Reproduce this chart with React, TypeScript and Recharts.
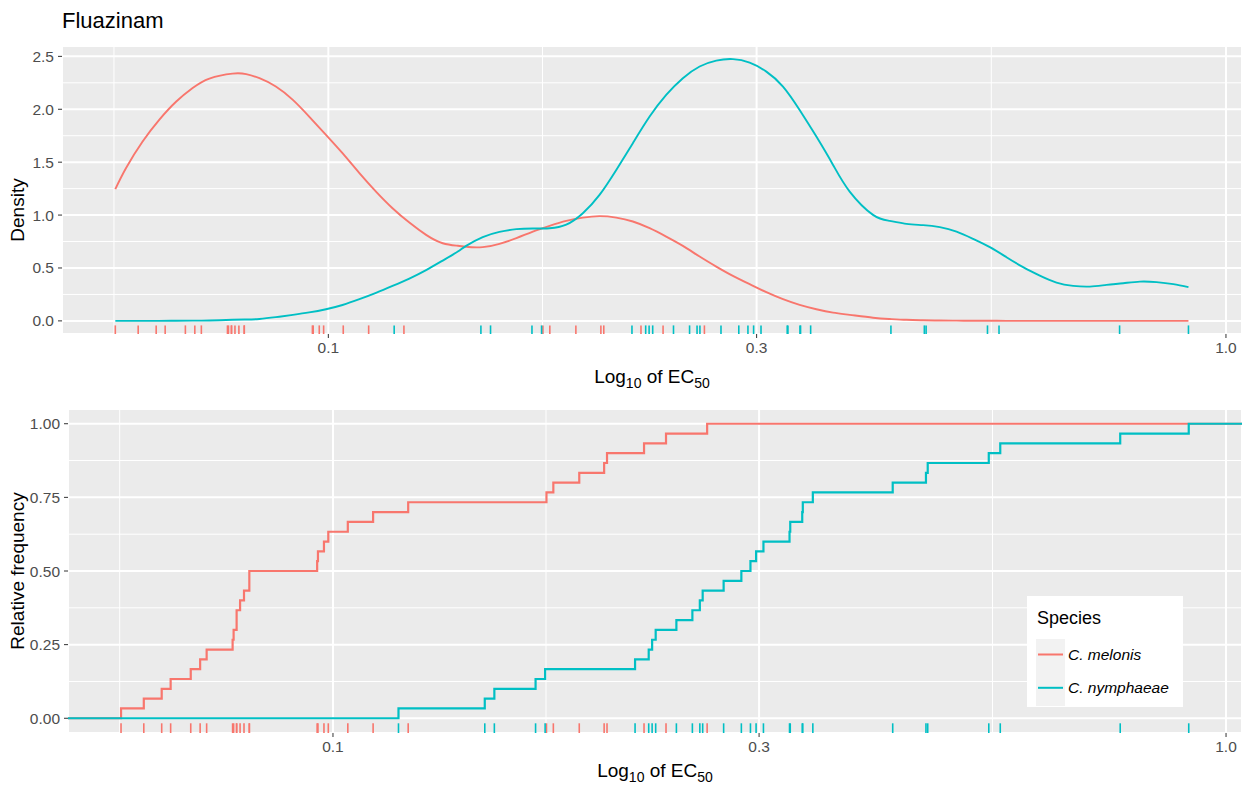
import React from 'react';
import { ComposedChart, Line, Scatter, XAxis, YAxis, CartesianGrid, Legend } from 'recharts';

// ---------- data ----------
const SPECIES = ['C. melonis', 'C. nymphaeae'];
const SPECIES_COLORS = ['#F8766D', '#00BFC4'];

const melonisEC50 = [0.0579, 0.0614, 0.0643, 0.0658, 0.0693, 0.071, 0.0722, 0.0772, 0.0774, 0.078, 0.078, 0.0787, 0.0795, 0.0806, 0.0806, 0.096, 0.0962, 0.0977, 0.0988, 0.1039, 0.1109, 0.1214, 0.1734, 0.1765, 0.1887, 0.2012, 0.2027, 0.223, 0.236, 0.2624];
const nymphaeaeEC50 = [0.1184, 0.1479, 0.1516, 0.1686, 0.1728, 0.2179, 0.2257, 0.2277, 0.2298, 0.2424, 0.2526, 0.2575, 0.2594, 0.2738, 0.2866, 0.2934, 0.2977, 0.3034, 0.3245, 0.3251, 0.3353, 0.3358, 0.3446, 0.4234, 0.4613, 0.4634, 0.5424, 0.5587, 0.7612, 0.9083];

const densityGrid = [0.0579, 0.0595, 0.0621, 0.0648, 0.0677, 0.0706, 0.0737, 0.0782, 0.081, 0.0838, 0.0874, 0.0913, 0.0952, 0.0994, 0.1037, 0.1083, 0.113, 0.1179, 0.1231, 0.1285, 0.1341, 0.1394, 0.1424, 0.1486, 0.1551, 0.162, 0.169, 0.1764, 0.1841, 0.1921, 0.2005, 0.2093, 0.2184, 0.228, 0.2379, 0.2483, 0.2592, 0.2705, 0.2823, 0.2947, 0.3076, 0.321, 0.335, 0.3497, 0.365, 0.3809, 0.4044, 0.4221, 0.4406, 0.4598, 0.48, 0.501, 0.5229, 0.5457, 0.5695, 0.5943, 0.6203, 0.6475, 0.6757, 0.7053, 0.7362, 0.7685, 0.802, 0.837, 0.8737, 0.9083];
const melonisDensity = [1.245, 1.443, 1.695, 1.9, 2.073, 2.2, 2.29, 2.337, 2.332, 2.294, 2.215, 2.089, 1.931, 1.758, 1.585, 1.396, 1.222, 1.065, 0.929, 0.813, 0.734, 0.71, 0.7, 0.697, 0.728, 0.782, 0.844, 0.898, 0.945, 0.976, 0.99, 0.976, 0.939, 0.876, 0.797, 0.709, 0.608, 0.513, 0.425, 0.347, 0.271, 0.205, 0.151, 0.11, 0.078, 0.057, 0.03, 0.018, 0.01, 0.006, 0.003, 0.002, 0.001, 0.001, 0, 0, 0, 0, 0, 0, 0, 0, 0, 0, 0, 0];
const nymphaeaeDensity = [0, 0, 0, 0, 0.001, 0.002, 0.004, 0.01, 0.013, 0.018, 0.035, 0.057, 0.08, 0.11, 0.15, 0.205, 0.265, 0.33, 0.4, 0.48, 0.57, 0.655, 0.709, 0.791, 0.841, 0.867, 0.873, 0.876, 0.91, 1.018, 1.191, 1.427, 1.68, 1.931, 2.136, 2.294, 2.404, 2.46, 2.474, 2.441, 2.356, 2.215, 1.994, 1.742, 1.474, 1.222, 1.002, 0.945, 0.917, 0.905, 0.886, 0.844, 0.775, 0.697, 0.602, 0.508, 0.428, 0.362, 0.331, 0.324, 0.34, 0.356, 0.371, 0.366, 0.347, 0.319];

const X_TICKS = [0.1, 0.3, 1.0];
const X_MINOR = [0.0577, 0.1732, 0.5477];
const X_DOMAIN = [0.0505, 1.042];
const DENSITY_TICKS = [0, 0.5, 1, 1.5, 2, 2.5];
const DENSITY_MINOR = [0.25, 0.75, 1.25, 1.75, 2.25];
const DENSITY_DOMAIN = [-0.124, 2.598];
const FREQ_TICKS = [0, 0.25, 0.5, 0.75, 1];
const FREQ_MINOR = [0.125, 0.375, 0.625, 0.875];
const FREQ_DOMAIN = [-0.05, 1.05];

// ---------- derived tables ----------
const densityRows = (vals: number[]) => densityGrid.map((x, i) => ({ x, y: vals[i] }));
const ecdfRows = (obs: number[]) => {
  const s = [...obs].sort((a, b) => a - b);
  return [{ x: X_DOMAIN[0], y: 0 }, ...s.map((v, i) => ({ x: v, y: (i + 1) / s.length })), { x: X_DOMAIN[1], y: 1 }];
};
const rugRows = (obs: number[], yBase: number) => obs.map((x) => ({ x, y: yBase }));

const OBS = [melonisEC50, nymphaeaeEC50];
const DENS = [melonisDensity, nymphaeaeDensity];

const FONT = "'Liberation Sans', Arial, sans-serif";
const TICK_STYLE = { fill: '#4D4D4D', fontSize: 15.5, fontFamily: FONT };

const makeRug = (color: string, len: number) => (props: any) => {
  const { cx, cy } = props;
  if (cx == null || cy == null) return <g />;
  return <line x1={cx} x2={cx} y1={cy} y2={cy - len} stroke={color} strokeWidth={1.6} />;
};

const XTitle = (cx: number, baseline: number) => () => (
  <text x={cx} y={baseline} textAnchor="middle" fontSize={19} fill="#000" fontFamily={FONT}>
    <tspan>Log</tspan>
    <tspan fontSize={14} dy={5}>10</tspan>
    <tspan dy={-5}> of EC</tspan>
    <tspan fontSize={14} dy={5}>50</tspan>
  </text>
);

const YTitle = (text: string, bx: number, cy: number) => () => (
  <text x={bx} y={cy} transform={`rotate(-90, ${bx}, ${cy})`} textAnchor="middle" fontSize={19} fill="#000" fontFamily={FONT}>
    {text}
  </text>
);

const LegendBox = () => (
  <svg width={156} height={111} style={{ display: 'block' }}>
    <rect x={0} y={0} width={156} height={111} fill="#fff" />
    <text x={10} y={28} fontSize={18} fill="#000" fontFamily={FONT}>Species</text>
    <rect x={9} y={43} width={29} height={67} fill="#F2F2F2" />
    {SPECIES.map((name, i) => (
      <g key={name}>
        <line x1={11} x2={36} y1={58.5 + i * 33.3} y2={58.5 + i * 33.3} stroke={SPECIES_COLORS[i]} strokeWidth={2} />
        <text x={41} y={58.5 + i * 33.3 + 5.5} fontSize={15.5} fontStyle="italic" fill="#000" fontFamily={FONT}>{name}</text>
      </g>
    ))}
  </svg>
);

function DensityChart() {
  return (
    <ComposedChart width={1254} height={395} margin={{ top: 46, right: 12, bottom: 0, left: 0 }}>
      <CartesianGrid fill="#EBEBEB" stroke="#FFFFFF" strokeWidth={1} horizontalValues={DENSITY_MINOR} verticalValues={X_MINOR} />
      <CartesianGrid stroke="#FFFFFF" strokeWidth={2} />
      <XAxis dataKey="x" type="number" scale="log" domain={X_DOMAIN} allowDataOverflow ticks={X_TICKS}
        tickFormatter={(v: number) => v.toFixed(1)} axisLine={false} tickLine={{ stroke: '#333333' }}
        tickSize={4} tickMargin={4} tick={TICK_STYLE} height={61} label={XTitle(652, 383)} />
      <YAxis type="number" domain={DENSITY_DOMAIN} allowDataOverflow ticks={DENSITY_TICKS}
        tickFormatter={(v: number) => v.toFixed(1)} axisLine={false} tickLine={{ stroke: '#333333' }}
        tickSize={4} tickMargin={4} tick={TICK_STYLE} width={62} label={YTitle('Density', 24, 210)} />
      {SPECIES.map((s, i) => (
        <Line key={'d' + s} data={densityRows(DENS[i])} dataKey="y" type="natural" stroke={SPECIES_COLORS[i]}
          strokeWidth={1.9} dot={false} activeDot={false} isAnimationActive={false} />
      ))}
      {SPECIES.map((s, i) => (
        <Scatter key={'r' + s} data={rugRows(OBS[i], DENSITY_DOMAIN[0])} dataKey="y"
          shape={makeRug(SPECIES_COLORS[i], 8.6)} isAnimationActive={false} />
      ))}
    </ComposedChart>
  );
}

function EcdfChart() {
  return (
    <ComposedChart width={1254} height={392} margin={{ top: 14, right: 12, bottom: 0, left: 0 }}>
      <CartesianGrid fill="#EBEBEB" stroke="#FFFFFF" strokeWidth={1} horizontalValues={FREQ_MINOR} verticalValues={X_MINOR} />
      <CartesianGrid stroke="#FFFFFF" strokeWidth={2} />
      <XAxis dataKey="x" type="number" scale="log" domain={X_DOMAIN} allowDataOverflow ticks={X_TICKS}
        tickFormatter={(v: number) => v.toFixed(1)} axisLine={false} tickLine={{ stroke: '#333333' }}
        tickSize={4} tickMargin={4} tick={TICK_STYLE} height={54} label={XTitle(655, 382)} />
      <YAxis type="number" domain={FREQ_DOMAIN} allowDataOverflow ticks={FREQ_TICKS}
        tickFormatter={(v: number) => v.toFixed(2)} axisLine={false} tickLine={{ stroke: '#333333' }}
        tickSize={4} tickMargin={4} tick={TICK_STYLE} width={68} label={YTitle('Relative frequency', 24, 176)} />
      {SPECIES.map((s, i) => (
        <Line key={'e' + s} data={ecdfRows(OBS[i])} dataKey="y" type="stepAfter" stroke={SPECIES_COLORS[i]}
          strokeWidth={2.2} dot={false} activeDot={false} isAnimationActive={false} />
      ))}
      {SPECIES.map((s, i) => (
        <Scatter key={'r' + s} data={rugRows(OBS[i], FREQ_DOMAIN[0])} dataKey="y"
          shape={makeRug(SPECIES_COLORS[i], 9.7)} isAnimationActive={false} />
      ))}
      <Legend layout="horizontal" verticalAlign="middle" align="center" content={LegendBox}
        wrapperStyle={{ left: 1027, top: 201, width: 156, height: 111 }} />
    </ComposedChart>
  );
}

export default function App() {
  return (
    <div style={{ position: 'absolute', left: 0, top: 0, width: 1254, height: 787, background: '#fff', fontFamily: FONT, overflow: 'hidden' }}>
      <div style={{ position: 'absolute', left: 62, top: 10, fontSize: 22, lineHeight: '22px', color: '#000' }}>Fluazinam</div>
      <div style={{ position: 'absolute', left: 0, top: 0 }}>
        <DensityChart />
      </div>
      <div style={{ position: 'absolute', left: 0, top: 395 }}>
        <EcdfChart />
      </div>
    </div>
  );
}
